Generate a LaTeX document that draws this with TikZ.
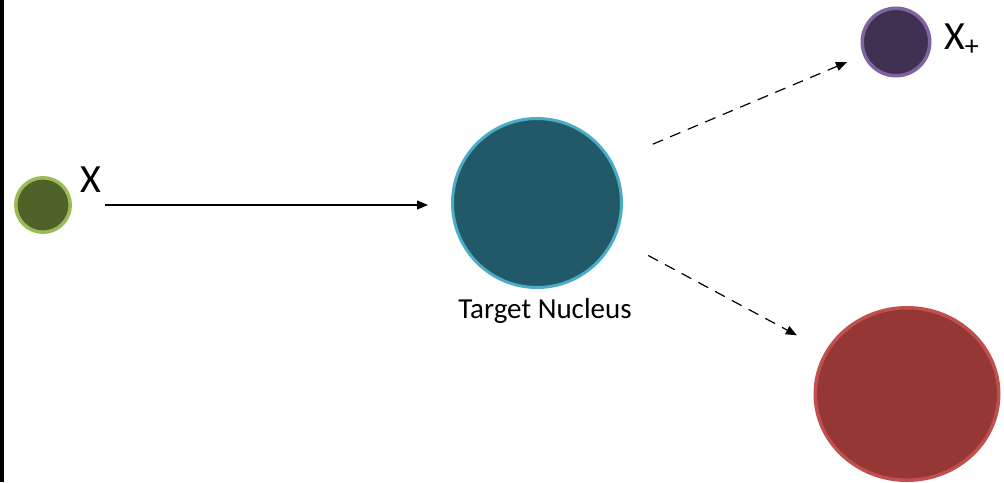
\documentclass[tikz,border=0pt]{standalone}
\usepackage{fontspec}
\setmainfont{Carlito}
\usetikzlibrary{arrows.meta,shapes.geometric}
\definecolor{xfill}{HTML}{4F6228}
\definecolor{xring}{HTML}{9BBB59}
\definecolor{nfill}{HTML}{215968}
\definecolor{nring}{HTML}{4BACC6}
\definecolor{pfill}{HTML}{3F3151}
\definecolor{pring}{HTML}{8064A2}
\definecolor{rfill}{HTML}{953735}
\definecolor{rring}{HTML}{C0504D}
\begin{document}
\begin{tikzpicture}[x=1pt,y=-1pt,
  particle/.style={circle,line width=3.5pt,inner sep=0pt},
  beam/.style={-{Triangle[length=11pt,width=9pt]},line width=1.2pt},
  product/.style={beam,dash pattern=on 11pt off 8pt}]
  \useasboundingbox (0,0) rectangle (1004,482);
  \fill[black] (0,0) rectangle (4,482);
  % particles
  \node[particle,draw=xring,fill=xfill,minimum size=54.5pt] (x) at (43,205) {};
  \node[particle,line width=3pt,draw=nring,fill=nfill,minimum size=169pt] (target) at (537,203) {};
  \node[particle,draw=pring,fill=pfill,minimum size=67.5pt] (xp) at (896,42) {};
  \node[ellipse,line width=3.5pt,inner sep=0pt,draw=rring,fill=rfill,
        minimum width=183.5pt,minimum height=172.5pt] (residue) at (907,394) {};
  % labels
  \node[inner sep=0pt,font=\fontsize{40}{44}\selectfont] (xlabel) at (91,180) {X};
  \node[inner sep=0pt,anchor=base west,font=\fontsize{40}{44}\selectfont] (xplabel) at (944,49) {X\textsubscript{+}};
  \node[inner sep=0pt,anchor=base,font=\fontsize{29}{32}\selectfont] (tlabel) at (545,318) {Target Nucleus};
  % reaction
  \draw[beam,shorten <=33pt,shorten >=23pt] (x.east) -- (x.east -| target.west);
  \draw[product,shorten <=44pt,shorten >=17.5pt] (target.29) -- (xp.202);
  \draw[product,shorten <=37pt,shorten >=32.6pt] (target.336) -- (residue.152);
\end{tikzpicture}
\end{document}
